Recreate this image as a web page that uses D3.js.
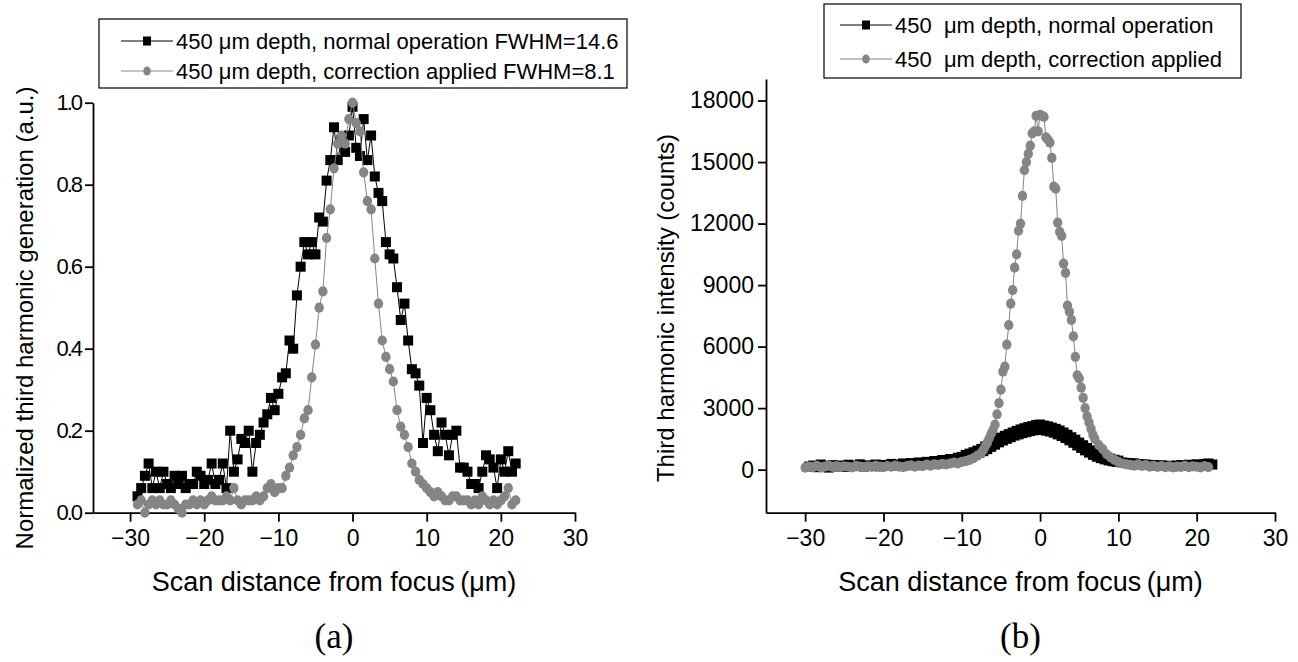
<!DOCTYPE html>
<html>
<head>
<meta charset="utf-8">
<script src="https://cdn.jsdelivr.net/npm/d3@7"></script>
<style>
  html, body { margin: 0; padding: 0; background: #fff; }
  svg { display: block; }
  text { font-family: "Liberation Sans", Arial, Helvetica, sans-serif; fill: #000; }
</style>
</head>
<body>
<script>
// Panel (a): normalized THG, [scan position um, value]
const normalA = [
  [-29,0.04],[-28.5,0.06],[-28,0.09],[-27.5,0.12],[-27,0.06],[-26.5,0.10],[-26,0.06],[-25.5,0.10],
  [-25,0.07],[-24.5,0.06],[-24,0.09],[-23.5,0.07],[-23,0.09],[-22.5,0.06],[-22,0.07],[-21.5,0.07],
  [-21,0.10],[-20.5,0.09],[-20,0.07],[-19.5,0.08],[-19,0.12],[-18.5,0.07],[-18,0.08],[-17.5,0.12],
  [-17,0.06],[-16.5,0.20],[-16,0.10],[-15.5,0.13],[-15,0.18],[-14.5,0.17],[-14,0.20],[-13.5,0.10],
  [-13,0.17],[-12.5,0.19],[-12,0.22],[-11.5,0.24],[-11,0.28],[-10.5,0.25],[-10,0.29],[-9.5,0.33],
  [-9,0.34],[-8.5,0.42],[-8,0.40],[-7.5,0.53],[-7,0.60],[-6.5,0.66],[-6,0.63],[-5.5,0.66],
  [-5,0.63],[-4.5,0.72],[-4,0.71],[-3.5,0.81],[-3,0.86],[-2.5,0.94],[-2,0.86],[-1.5,0.91],
  [-1,0.88],[-0.5,0.92],[0,0.99],[0.5,0.89],[1,0.87],[1.5,0.96],[2,0.86],[2.5,0.92],
  [3,0.82],[3.5,0.78],[4,0.76],[4.5,0.66],[5,0.63],[5.5,0.62],[6,0.55],[6.5,0.47],
  [7,0.51],[7.5,0.42],[8,0.35],[8.5,0.34],[9,0.31],[9.5,0.17],[10,0.28],[10.5,0.25],
  [11,0.19],[11.5,0.15],[12,0.22],[12.5,0.19],[13,0.14],[13.5,0.19],[14,0.20],[14.5,0.11],
  [15,0.11],[15.5,0.10],[16,0.07],[16.5,0.07],[17,0.06],[17.5,0.10],[18,0.14],[18.5,0.13],
  [19,0.11],[19.5,0.06],[20,0.13],[20.5,0.10],[21,0.15],[21.5,0.10],[22,0.12]
]
const correctedA = [
  [-29,0.02],[-28.5,0.03],[-28,0.00],[-27.5,0.02],[-27,0.03],[-26.5,0.02],[-26,0.03],[-25.5,0.02],
  [-25,0.02],[-24.5,0.03],[-24,0.02],[-23.5,0.01],[-23,0.00],[-22.5,0.02],[-22,0.02],[-21.5,0.03],
  [-21,0.02],[-20.5,0.03],[-20,0.02],[-19.5,0.03],[-19,0.04],[-18.5,0.03],[-18,0.03],[-17.5,0.03],
  [-17,0.04],[-16.5,0.03],[-16,0.06],[-15.5,0.03],[-15,0.02],[-14.5,0.03],[-14,0.03],[-13.5,0.03],
  [-13,0.04],[-12.5,0.03],[-12,0.04],[-11.5,0.06],[-11,0.07],[-10.5,0.05],[-10,0.06],[-9.5,0.06],
  [-9,0.09],[-8.5,0.11],[-8,0.14],[-7.5,0.16],[-7,0.19],[-6.5,0.23],[-6,0.25],[-5.5,0.33],
  [-5,0.41],[-4.5,0.50],[-4,0.54],[-3.5,0.67],[-3,0.74],[-2.5,0.84],[-2,0.90],[-1.5,0.92],
  [-1,0.90],[-0.5,0.96],[0,1.00],[0.5,0.95],[1,0.93],[1.5,0.83],[2,0.76],[2.5,0.74],
  [3,0.62],[3.5,0.51],[4,0.42],[4.5,0.38],[5,0.35],[5.5,0.32],[6,0.25],[6.5,0.21],
  [7,0.19],[7.5,0.16],[8,0.12],[8.5,0.10],[9,0.08],[9.5,0.07],[10,0.06],[10.5,0.05],
  [11,0.04],[11.5,0.05],[12,0.04],[12.5,0.03],[13,0.03],[13.5,0.04],[14,0.04],[14.5,0.03],
  [15,0.03],[15.5,0.03],[16,0.02],[16.5,0.03],[17,0.02],[17.5,0.04],[18,0.03],[18.5,0.02],
  [19,0.03],[19.5,0.02],[20,0.03],[20.5,0.04],[21,0.06],[21.5,0.02],[22,0.03]
]

// Panel (b): THG intensity in counts
const normalB = [
  [-29.5,150],[-29,200],[-28.5,120],[-28,250],[-27.5,180],[-27,100],[-26.5,220],[-26,150],
  [-25.5,200],[-25,130],[-24.5,240],[-24,170],[-23.5,200],[-23,260],[-22.5,150],[-22,210],
  [-21.5,180],[-21,250],[-20.5,160],[-20,230],[-19.5,200],[-19,280],[-18.5,190],[-18,250],
  [-17.5,300],[-17,220],[-16.5,320],[-16,260],[-15.5,350],[-15,300],[-14.5,380],[-14,330],
  [-13.5,420],[-13,380],[-12.5,470],[-12,430],[-11.5,520],[-11,480],[-10.5,580],
  [-10,620],[-9.75,540],[-9.5,720],[-9.25,620],[-9,780],[-8.75,680],[-8.5,850],[-8.25,740],
  [-8,930],[-7.75,830],[-7.5,1010],[-7.25,900],[-7,1130],[-6.75,1000],[-6.5,1240],[-6.25,1110],
  [-6,1360],[-5.75,1220],[-5.5,1460],[-5.25,1330],[-5,1560],[-4.75,1420],[-4.5,1650],[-4.25,1500],
  [-4,1730],[-3.75,1580],[-3.5,1810],[-3.25,1660],[-3,1890],[-2.75,1720],[-2.5,1960],[-2.25,1780],
  [-2,2020],[-1.75,1830],[-1.5,2080],[-1.25,1880],[-1,2120],[-0.75,1920],[-0.5,2180],[-0.25,1940],
  [0,2200],[0.25,1960],[0.5,2150],[0.75,1900],[1,2110],[1.25,1860],[1.5,2050],[1.75,1800],
  [2,1990],[2.25,1720],[2.5,1910],[2.75,1640],[3,1810],[3.25,1540],[3.5,1700],[3.75,1430],
  [4,1580],[4.25,1310],[4.5,1460],[4.75,1180],[5,1320],[5.25,1060],[5.5,1190],[5.75,940],
  [6,1060],[6.25,830],[6.5,940],[6.75,720],[7,820],[7.25,630],[7.5,730],[7.75,560],
  [8,650],[8.25,500],[8.5,590],[8.75,450],[9,530],[9.25,410],[9.5,480],[9.75,380],
  [10,440],[10.5,350],[11,330],[11.5,300],[12,310],[12.5,270],[13,260],[13.5,250],[14,230],
  [14.5,220],[15,200],[15.5,210],[16,180],[16.5,190],[17,170],[17.5,200],[18,220],
  [18.5,180],[19,240],[19.5,210],[20,260],[20.5,230],[21,280],[21.5,300],[22,250]
]
const correctedB = [
  [-30,100],[-29.5,150],[-29,120],[-28.5,180],[-28,110],[-27.5,150],[-27,200],[-26.5,130],
  [-26,170],[-25.5,120],[-25,160],[-24.5,140],[-24,110],[-23.5,180],[-23,150],[-22.5,120],
  [-22,160],[-21.5,130],[-21,190],[-20.5,150],[-20,120],[-19.5,170],[-19,140],[-18.5,200],
  [-18,150],[-17.5,120],[-17,170],[-16.5,210],[-16,150],[-15.5,200],[-15,170],[-14.5,240],
  [-14,200],[-13.5,260],[-13,230],[-12.5,280],[-12,250],[-11.5,300],[-11,340],[-10.5,310],
  [-10,380],[-9.5,420],[-9,480],[-8.5,560],[-8,680],[-7.5,820],[-7.25,960],[-7,1150],
  [-6.75,1300],[-6.5,1530],[-6.25,1750],[-6,1940],[-5.75,2200],[-5.5,2700],[-5.25,3240],[-5,3900],
  [-4.75,4780],[-4.5,5020],[-4.25,6100],[-4,7050],[-3.75,8100],[-3.5,8750],[-3.25,9850],[-3,10500],
  [-2.75,11650],[-2.5,12000],[-2.25,13350],[-2,14600],[-1.75,15000],[-1.5,15400],[-1.25,15800],[-1,16400],
  [-0.75,16500],[-0.5,17250],[-0.25,16500],[0,17300],[0.25,17250],[0.5,17200],[0.75,16200],[1,16100],
  [1.25,15950],[1.5,15200],[1.75,13800],[2,13700],[2.25,12050],[2.5,11600],[2.75,11400],[3,10050],
  [3.25,9600],[3.5,8000],[3.75,7700],[4,7300],[4.25,6500],[4.5,5500],[4.75,4600],[5,4450],
  [5.25,4000],[5.5,3500],[5.75,3000],[6,2600],[6.25,2300],[6.5,2000],[6.75,1700],[7,1500],
  [7.5,1200],[8,1000],[8.5,750],[9,600],[9.5,480],[10,380],[10.5,300],[11,260],
  [11.5,230],[12,200],[12.5,260],[13,180],[13.5,220],[14,150],[14.5,190],[15,130],
  [15.5,170],[16,120],[16.5,160],[17,110],[17.5,150],[18,130],[18.5,180],[19,120],
  [19.5,160],[20,140],[20.5,110],[21,170],[21.5,120]
]

const xTicks = [-30, -20, -10, 0, 10, 20, 30]
const yTicksA = [0, 0.2, 0.4, 0.6, 0.8, 1.0]
const yTicksB = [0, 3000, 6000, 9000, 12000, 15000, 18000]
const legendA = ['450 μm depth, normal operation FWHM=14.6', '450 μm depth, correction applied FWHM=8.1']
const legendB = ['450  μm depth, normal operation', '450  μm depth, correction applied']

const W = 1298, H = 662
const grey = '#858585'

const svg = d3.select('body').append('svg')
  .attr('width', W).attr('height', H)
  .attr('viewBox', `0 0 ${W} ${H}`)

function drawPanel(p) {
  const g = svg.append('g')

  const x = d3.scaleLinear().domain([-35, 30]).range([p.left, p.right])
  const y = d3.scaleLinear().domain(p.yDomain).range([p.bottom, p.top])

  // axes
  const xAxis = g.append('g')
    .attr('transform', `translate(0,${p.bottom})`)
    .call(d3.axisBottom(x).tickValues(xTicks).tickSize(9).tickSizeOuter(0).tickPadding(8))
  const yAxis = g.append('g')
    .attr('transform', `translate(${p.left},0)`)
    .call(d3.axisLeft(y).tickValues(p.yTicks).tickFormat(p.yFormat).tickSize(8).tickSizeOuter(0).tickPadding(4))

  ;[xAxis, yAxis].forEach(a => {
    a.select('.domain').attr('stroke', '#000').attr('stroke-width', 1.8)
    a.selectAll('.tick line').attr('stroke', '#000').attr('stroke-width', 1.8)
    a.selectAll('text')
      .style('font-family', '"Liberation Sans", Arial, Helvetica, sans-serif')
      .attr('fill', '#000')
  })
  xAxis.selectAll('text').style('font-size', '23px').attr('dy', '0.71em')
  yAxis.selectAll('text').style('font-size', p.yFontSize).style('letter-spacing', p.ySpacing)

  // series
  const line = d3.line().x(d => x(d[0])).y(d => y(d[1]))
  const sq = 10

  g.append('path').datum(p.normal)
    .attr('d', line).attr('fill', 'none')
    .attr('stroke', '#000').attr('stroke-width', 1)
  g.append('g').selectAll('rect')
    .data(p.normal)
    .join('rect')
    .attr('x', d => x(d[0]) - sq / 2).attr('y', d => y(d[1]) - sq / 2)
    .attr('width', sq).attr('height', sq)
    .attr('fill', '#000')

  g.append('path').datum(p.corrected)
    .attr('d', line).attr('fill', 'none')
    .attr('stroke', grey).attr('stroke-width', 1)
  g.append('g').selectAll('ellipse')
    .data(p.corrected)
    .join('ellipse')
    .attr('cx', d => x(d[0])).attr('cy', d => y(d[1]))
    .attr('rx', 4.7).attr('ry', 5.1)
    .attr('fill', grey)

  // titles
  g.append('text')
    .attr('x', (p.left + p.right) / 2).attr('y', 591)
    .attr('text-anchor', 'middle')
    .style('font-size', '27px')
    .text('Scan distance from focus\u2009(μm)')

  g.append('text')
    .attr('transform', `translate(${p.yTitleX},${p.yTitleY}) rotate(-90)`)
    .attr('text-anchor', 'middle')
    .attr('dy', '0.35em')
    .style('font-size', p.yTitleSize)
    .text(p.yTitle)

  g.append('text')
    .attr('x', (p.left + p.right) / 2).attr('y', 648)
    .attr('text-anchor', 'middle')
    .style('font-family', '"Liberation Serif", "Times New Roman", serif')
    .style('font-size', '35px')
    .text(p.tag)

  // legend
  const lg = g.append('g')
  lg.append('rect')
    .attr('x', p.legend.x).attr('y', p.legend.y)
    .attr('width', p.legend.w).attr('height', p.legend.h)
    .attr('fill', '#fff').attr('stroke', '#000').attr('stroke-width', 1.2)

  p.legend.labels.forEach((label, i) => {
    const cy = p.legend.y + p.legend.row0 + i * p.legend.rowGap
    const sx = p.legend.x + p.legend.symX
    lg.append('line')
      .attr('x1', sx).attr('x2', sx + 52).attr('y1', cy).attr('y2', cy)
      .attr('stroke', i === 0 ? '#000' : grey).attr('stroke-width', 1.2)
    if (i === 0) {
      lg.append('rect')
        .attr('x', sx + 26 - 4).attr('y', cy - 4.5)
        .attr('width', 8).attr('height', 9).attr('fill', '#000')
    } else {
      lg.append('ellipse')
        .attr('cx', sx + 26).attr('cy', cy).attr('rx', 3.8).attr('ry', 4.6)
        .attr('fill', grey)
    }
    lg.append('text')
      .attr('x', sx + 55).attr('y', cy)
      .attr('dy', '0.35em')
      .style('font-size', '22px')
      .style('white-space', 'pre')
      .text(label)
  })
}

drawPanel({
  left: 93, right: 575, top: 102.7, bottom: 512.7,
  yDomain: [0, 1], yTicks: yTicksA, yFormat: d3.format('.1f'),
  yFontSize: '22px', ySpacing: '-2px',
  normal: normalA, corrected: correctedA,
  yTitle: 'Normalized third harmonic generation (a.u.)',
  yTitleX: 25, yTitleY: 318, yTitleSize: '24px',
  tag: '(a)',
  legend: { x: 99, y: 19, w: 528, h: 69, row0: 22, rowGap: 30, symX: 22, labels: legendA }
})

drawPanel({
  left: 766, right: 1275, top: 79, bottom: 512.7,
  yDomain: [-2100, 19050], yTicks: yTicksB, yFormat: d3.format('d'),
  yFontSize: '23px', ySpacing: '0px',
  normal: normalB, corrected: correctedB,
  yTitle: 'Third harmonic intensity (counts)',
  yTitleX: 666, yTitleY: 308, yTitleSize: '24px',
  tag: '(b)',
  legend: { x: 824, y: 4, w: 417, h: 74, row0: 21, rowGap: 34, symX: 16, labels: legendB }
})
</script>
</body>
</html>
